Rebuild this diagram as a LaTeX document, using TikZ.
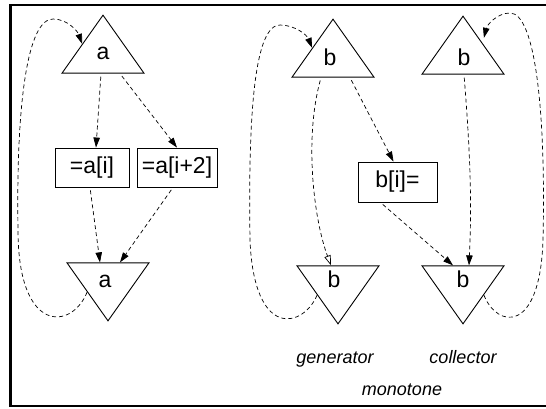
\documentclass[tikz,border=0pt]{standalone}
\usepackage{fontspec}
\setmainfont{Liberation Sans}
\usetikzlibrary{shapes.geometric,arrows.meta}
\tikzset{
  trup/.style={draw,isosceles triangle,isosceles triangle stretches,shape border rotate=90,minimum width=82pt,minimum height=58pt,inner sep=0pt,anchor=apex,line width=0.9pt},
  trdown/.style={trup,shape border rotate=270},
  cell/.style={draw,minimum height=39pt,inner sep=0pt,line width=0.9pt,font=\fontsize{23}{27}\selectfont},
  letter/.style={anchor=base,inner sep=0pt,font=\fontsize{23}{27}\selectfont},
  caption/.style={anchor=base,inner sep=0pt,font=\fontsize{18}{22}\selectfont\itshape},
  flow/.style={dash pattern=on 4pt off 3pt,line width=0.7pt,-{Triangle[length=10pt,width=6.5pt]},shorten <=3pt},
}
\begin{document}
\begin{tikzpicture}[x=1pt,y=-1pt]
\useasboundingbox (0,0) rectangle (546,408);
\draw[line width=2.2pt] (548,5.3) -- (10.5,5.3) -- (10.5,406) -- (548,406);
% array a
\node[trup] (ta) at (103,14) {};
\node[letter] (la) at (103,59) {a};
\node[cell,minimum width=74pt] (a1) at (92,167.5) {=a[i]};
\node[cell,minimum width=80pt] (a2) at (177,167.5) {=a[i+2]};
\node[trdown] (ab) at (108,322) {};
\node[letter] (lab) at (105,287) {a};
\draw[flow] ([xshift=-2pt]ta.lower side) -- ([xshift=4pt]a1.north);
\draw[flow] ([xshift=17pt]ta.lower side) -- (a2.north);
\draw[flow] ([xshift=-2pt]a1.south) -- ([xshift=-8pt]ab.lower side);
\draw[flow] ([xshift=-4pt]a2.south) -- ([xshift=12pt]ab.lower side);
\draw[flow,shorten <=0pt] (ab.right side) .. controls (72,330) and (18,335) .. (18,230) .. controls (16,100) and (28,19) .. (53,19) .. controls (68,19) and (78,32) .. (ta.left side);
% array b, generator
\node[trup] (gt) at (333,18) {};
\node[letter] (lgt) at (330,65) {b};
\node[trdown] (gb) at (338,325) {};
\node[letter] (lgb) at (334,287) {b};
\node[cell,minimum width=79pt,minimum height=40pt] (bb) at (397.5,182) {b[i]=};
\draw[flow,-{Triangle[open,length=10pt,width=6.5pt]}] ([xshift=-12pt]gt.lower side) .. controls (304,140) and (314,220) .. ([xshift=-7pt]gb.lower side);
\draw[flow] ([xshift=17pt]gt.lower side) -- ([xshift=-4pt]bb.north);
\draw[flow,shorten <=0pt] (gb.right side) .. controls (303,328) and (254,340) .. (250,240) .. controls (248,110) and (255,25) .. (280,25) .. controls (295,25) and (307,35) .. (gt.left side);
% array b, collector
\node[trup] (ct) at (463,15) {};
\node[letter] (lct) at (464,65) {b};
\node[trdown] (cb) at (463,325) {};
\node[letter] (lcb) at (463,287) {b};
\draw[flow] ([xshift=-17pt]bb.south) -- ([xshift=-10pt]cb.lower side);
\draw[flow] ([xshift=1pt]ct.lower side) .. controls (470,150) and (472,200) .. ([xshift=6pt]cb.lower side);
\draw[flow,shorten <=0pt] (cb.left side) .. controls (497,328) and (540,335) .. (543,240) .. controls (546,110) and (535,13) .. (510,13) .. controls (497,13) and (487,25) .. ([yshift=7pt]ct.right side);
% captions
\node[caption] (gen) at (335,363) {generator};
\node[caption] (col) at (463,363) {collector};
\node[caption] (mono) at (402,395) {monotone};
\end{tikzpicture}
\end{document}
